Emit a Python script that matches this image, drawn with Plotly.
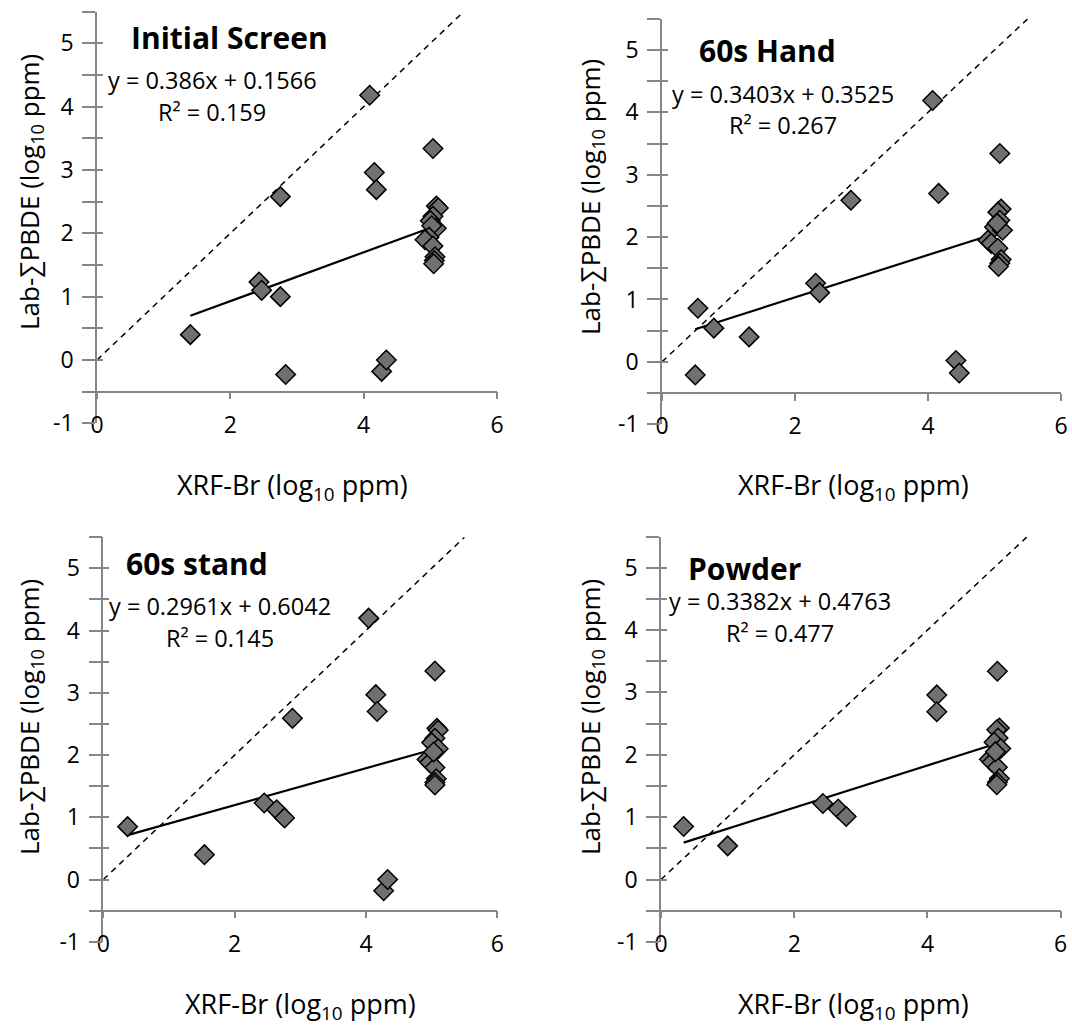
import plotly.graph_objects as go

# ---------------- data ----------------
panel_titles = ["Initial Screen", "60s Hand", "60s stand", "Powder"]
eq_slopes = [0.386, 0.3403, 0.2961, 0.3382]
eq_intercepts = [0.1566, 0.3525, 0.6042, 0.4763]
eq_r2 = ["0.159", "0.267", "0.145", "0.477"]
eq_text = ["y = 0.386x + 0.1566", "y = 0.3403x + 0.3525", "y = 0.2961x + 0.6042", "y = 0.3382x + 0.4763"]

initial_x = [1.40, 2.43, 2.47, 2.75, 2.75, 2.83, 4.09, 4.16, 4.19, 4.27, 4.34, 5.04,
             5.09, 5.12, 5.04, 5.00, 5.09, 5.02, 4.98, 4.92, 5.04, 5.07, 5.06, 5.05]
initial_y = [0.40, 1.23, 1.10, 2.58, 1.00, -0.23, 4.18, 2.96, 2.69, -0.18, 0.00, 3.34,
             2.43, 2.40, 2.27, 2.20, 2.08, 2.12, 1.94, 1.90, 1.80, 1.63, 1.57, 1.52]

hand_x = [0.50, 0.54, 0.78, 1.31, 2.31, 2.37, 2.84, 4.07, 4.16, 4.42, 4.47, 5.08,
          5.10, 5.05, 5.08, 5.00, 5.12, 4.90, 4.95, 5.05, 5.10, 5.08, 5.06, 5.04]
hand_y = [-0.21, 0.86, 0.54, 0.40, 1.26, 1.11, 2.59, 4.19, 2.70, 0.02, -0.18, 3.34,
          2.45, 2.40, 2.27, 2.16, 2.11, 1.95, 1.90, 1.82, 1.64, 1.58, 1.53, 2.22]

stand_x = [0.37, 1.54, 2.45, 2.64, 2.76, 2.88, 4.04, 4.15, 4.17, 4.27, 4.33, 5.05,
           5.08, 5.10, 5.05, 5.00, 5.10, 4.93, 4.97, 5.05, 5.07, 5.05, 5.05, 5.03]
stand_y = [0.85, 0.40, 1.23, 1.12, 0.99, 2.59, 4.20, 2.97, 2.70, -0.18, 0.00, 3.35,
           2.43, 2.40, 2.27, 2.20, 2.10, 1.93, 1.88, 1.80, 1.62, 1.56, 1.52, 2.05]

powder_x = [0.34, 1.00, 2.43, 2.66, 2.78, 4.14, 4.14, 5.05,
            5.08, 5.04, 5.06, 5.00, 5.10, 4.93, 4.97, 5.05, 5.08, 5.05, 5.04, 5.02]
powder_y = [0.85, 0.54, 1.22, 1.13, 1.01, 2.96, 2.69, 3.34,
            2.43, 2.40, 2.27, 2.20, 2.10, 1.93, 1.88, 1.80, 1.62, 1.56, 1.52, 2.05]

one_to_one = [0.0, 5.5]

x_ticks = [0, 2, 4, 6]
x_tick_text = ["0", "2", "4", "6"]
y_ticks = [-1, 0, 1, 2, 3, 4, 5]
y_tick_text = ["-1", "0", "1", "2", "3", "4", "5"]

all_x = [initial_x, hand_x, stand_x, powder_x]
all_y = [initial_y, hand_y, stand_y, powder_y]

# ---------------- layout geometry (pixels) ----------------
W, H = 1072, 1026
panels = [
    dict(x0=97, x1=497, ytop=11.7, ybot=423.3, title=(229, 37), eq=(212, 80), r2=(212, 112), xt=(292, 487), yt=(30, 192)),
    dict(x0=662, x1=1061, ytop=18.8, ybot=424.2, title=(767, 51), eq=(783, 94), r2=(783, 125), xt=(853, 487), yt=(591, 197)),
    dict(x0=103.3, x1=497.3, ytop=537.2, ybot=941.8, title=(197, 563), eq=(220, 606), r2=(220, 638), xt=(300, 1005), yt=(30, 717)),
    dict(x0=661, x1=1060.7, ytop=536.5, ybot=941.9, title=(744, 568), eq=(780, 601), r2=(780, 633), xt=(853, 1005), yt=(591, 717)),
]

def px(x):
    return x / W

def py(y):
    return 1 - y / H

AX = "#868686"
FONT = "Open Sans"
MARK = "#707070"

fig = go.Figure()
layout = dict(
    width=W, height=H, margin=dict(l=0, r=0, t=0, b=0),
    paper_bgcolor="white", plot_bgcolor="white", showlegend=False,
    font=dict(family=FONT, color="black"),
)
annotations = []

for i, p in enumerate(panels):
    n = i + 1
    xs = "" if n == 1 else str(n)
    xa, ya = "x" + xs, "y" + xs
    ov = "y" + str(n + 4)
    xmin, xmax = min(all_x[i]), max(all_x[i])

    # 1:1 dashed line
    fig.add_trace(go.Scatter(x=one_to_one, y=one_to_one, mode="lines",
                             line=dict(color="black", width=1.5, dash="6px,5px"),
                             xaxis=xa, yaxis=ya, hoverinfo="skip"))
    # trend line
    fig.add_trace(go.Scatter(x=[xmin, xmax],
                             y=[eq_slopes[i] * xmin + eq_intercepts[i], eq_slopes[i] * xmax + eq_intercepts[i]],
                             mode="lines", line=dict(color="black", width=2.2),
                             xaxis=xa, yaxis=ya, hoverinfo="skip"))
    # points
    fig.add_trace(go.Scatter(x=all_x[i], y=all_y[i], mode="markers",
                             marker=dict(symbol="diamond", size=15, color=MARK,
                                         line=dict(color="black", width=1.5)),
                             xaxis=xa, yaxis=ya))
    # empty trace to carry the inner-tick overlay axis
    fig.add_trace(go.Scatter(x=[None], y=[None], mode="markers", xaxis=xa, yaxis=ov,
                             hoverinfo="skip", showlegend=False))

    ypos_axis = p["ybot"] - 0.5 / 6.5 * (p["ybot"] - p["ytop"])
    layout["xaxis" + xs] = dict(
        domain=[px(p["x0"]), px(p["x1"])], range=[0, 6], anchor="free", position=py(ypos_axis),
        tickvals=x_ticks, ticktext=x_tick_text, ticks="outside", ticklen=7, tickcolor=AX, tickwidth=1.5,
        showline=True, linecolor=AX, linewidth=1.5, showgrid=False, zeroline=False,
        tickfont=dict(size=23, family=FONT, color="black"), ticklabelstandoff=6,
        automargin=False,
    )
    ydom = [py(p["ybot"]), py(p["ytop"])]
    layout["yaxis" + xs] = dict(
        domain=ydom, range=[-1, 5.5], anchor=xa,
        tickvals=y_ticks, ticktext=y_tick_text, ticks="outside", ticklen=13, tickcolor=AX, tickwidth=1.5,
        minor=dict(tickvals=[v + 0.5 for v in y_ticks[:-1]] + [5.5], ticks="outside", ticklen=13,
                   tickcolor=AX, tickwidth=1.5),
        showline=True, linecolor=AX, linewidth=1.5, showgrid=False, zeroline=False,
        tickfont=dict(size=23, family=FONT, color="black"), ticklabelstandoff=4,
        automargin=False,
    )
    layout["yaxis" + str(n + 4)] = dict(
        domain=ydom, range=[-1, 5.5], anchor=xa, overlaying=ya, side="left",
        tickvals=y_ticks, ticks="inside", ticklen=6, tickcolor=AX, tickwidth=1.5,
        minor=dict(tickvals=[v + 0.5 for v in y_ticks[:-1]], ticks="inside", ticklen=6,
                   tickcolor=AX, tickwidth=1.5),
        showticklabels=False, showline=False, showgrid=False, zeroline=False, automargin=False,
    )

    annotations.append(dict(text="<b>%s</b>" % panel_titles[i], x=px(p["title"][0]), y=py(p["title"][1]),
                            xref="paper", yref="paper", showarrow=False, xanchor="center", yanchor="middle",
                            font=dict(size=30, family=FONT, color="black")))
    annotations.append(dict(text=eq_text[i], x=px(p["eq"][0]), y=py(p["eq"][1]),
                            xref="paper", yref="paper", showarrow=False, xanchor="center", yanchor="middle",
                            font=dict(size=23.5, family=FONT, color="black")))
    annotations.append(dict(text="R² = " + eq_r2[i], x=px(p["r2"][0]), y=py(p["r2"][1]),
                            xref="paper", yref="paper", showarrow=False, xanchor="center", yanchor="middle",
                            font=dict(size=23.5, family=FONT, color="black")))
    annotations.append(dict(text="XRF-Br (log<sub>10</sub> ppm)", x=px(p["xt"][0]), y=py(p["xt"][1]),
                            xref="paper", yref="paper", showarrow=False, xanchor="center", yanchor="middle",
                            font=dict(size=27, family=FONT, color="black")))
    annotations.append(dict(text="Lab-∑PBDE (log<sub>10</sub> ppm)", x=px(p["yt"][0]), y=py(p["yt"][1]),
                            xref="paper", yref="paper", showarrow=False, xanchor="center", yanchor="middle",
                            textangle=-90, font=dict(size=26, family=FONT, color="black")))

layout["annotations"] = annotations
fig.update_layout(**layout)
fig.write_html("out.html",
               config={"displayModeBar": False},
               post_script="document.body.style.margin='0';document.body.style.padding='0';"
                           "document.documentElement.style.overflow='hidden';")
